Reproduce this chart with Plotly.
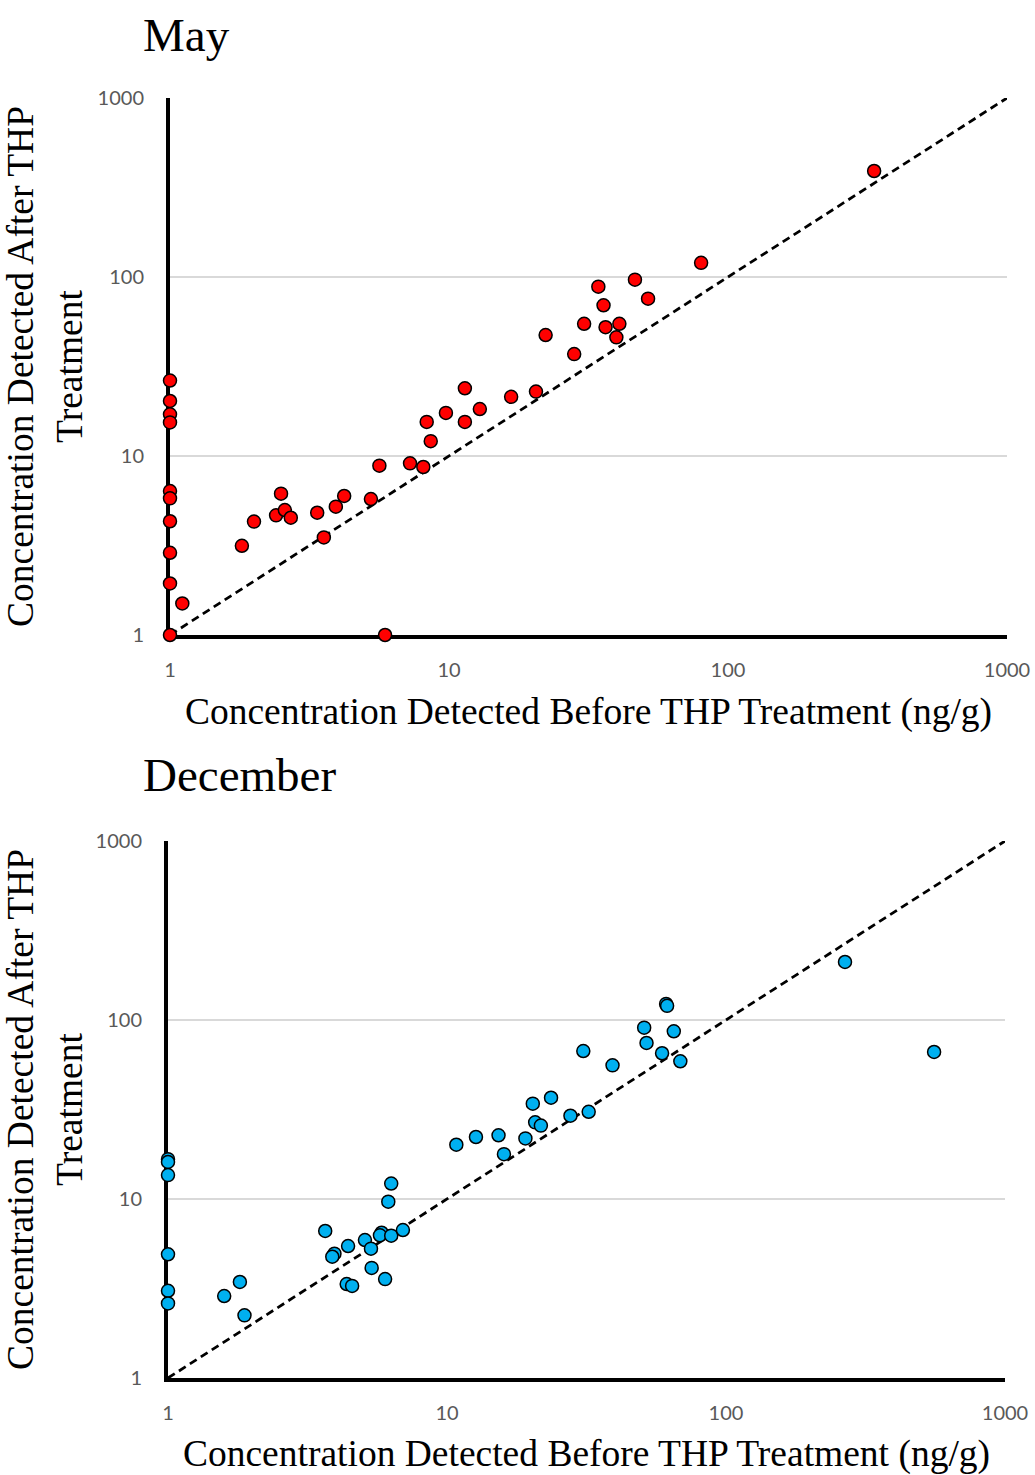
import plotly.graph_objects as go

# ---------------- data ----------------
may_before = [1, 1, 1, 1, 1, 1, 1, 1, 1, 1, 1.107, 5.9,
              1.81, 2.0, 2.5, 2.4, 2.58, 2.71, 3.37, 3.56, 3.93, 4.21, 5.25, 5.63,
              7.25, 8.09, 8.32, 8.6, 9.75, 11.4, 11.4, 12.9, 16.7, 20.5, 22.2, 28.1,
              30.5, 34.3, 35.8, 36.4, 40.8, 39.8, 46.4, 51.7, 80.1, 334]
may_after = [26.4, 20.3, 17.1, 15.4, 6.37, 5.8, 4.32, 2.88, 1.94, 1, 1.5, 1,
             3.15, 4.3, 6.16, 4.66, 4.99, 4.52, 4.82, 3.51, 5.21, 5.98, 5.75, 8.83,
             9.1, 8.68, 15.5, 12.1, 17.4, 23.9, 15.5, 18.3, 21.4, 22.9, 47.4, 37.1,
             54.8, 88.3, 69.5, 52.4, 54.8, 46.0, 96.6, 75.7, 120, 391]

dec_before = [1, 1, 1, 1, 1, 1, 1.59, 1.81, 1.88, 3.66, 3.95, 3.88, 4.42, 4.37, 4.57,
              5.08, 5.34, 5.37, 6.0, 5.83, 5.75, 6.31, 6.95, 6.16, 6.31,
              10.8, 12.7, 15.3, 16.0, 19.1, 20.3, 23.6, 20.7, 21.7, 27.7, 32.2, 30.8,
              39.2, 50.9, 51.9, 59, 65, 68.6, 61, 61.5, 267, 557]
dec_after = [16.7, 16.1, 13.6, 4.91, 3.07, 2.61, 2.87, 3.44, 2.24, 6.63, 4.95, 4.76, 5.46, 3.35, 3.27,
             5.9, 5.28, 4.12, 3.57, 6.48, 6.27, 6.24, 6.71, 9.66, 12.2,
             20.1, 22.2, 22.7, 17.8, 21.8, 34.1, 36.8, 26.8, 25.7, 29.2, 30.7, 67.1,
             55.8, 90.6, 74.4, 65.2, 86.5, 58.8, 123, 120, 211, 66.3]

ref_line = [1, 1000]
tick_vals = [1, 10, 100, 1000]
tick_text = ["1", "10", "100", "1000"]

panel_titles = ["May", "December"]
x_title = "Concentration Detected Before THP Treatment (ng/g)"
y_title = "Concentration Detected After THP<br>Treatment"

W, H = 1035, 1475

fig = go.Figure()

series = [(may_before, may_after, "#FF0000", "x", "y"),
          (dec_before, dec_after, "#00B0F0", "x2", "y2")]

for bx, ay, col, xa, ya in series:
    fig.add_trace(go.Scatter(x=ref_line, y=ref_line, mode="lines",
                             line=dict(color="black", width=2.75, dash="8px,5px"),
                             xaxis=xa, yaxis=ya, showlegend=False, hoverinfo="skip",
                             cliponaxis=False))
    fig.add_trace(go.Scatter(x=bx, y=ay, mode="markers",
                             marker=dict(color=col, size=13,
                                         line=dict(color="black", width=1.5)),
                             xaxis=xa, yaxis=ya, showlegend=False, cliponaxis=False))

tick_font = dict(family="Lato, Open Sans, sans-serif", size=20, color="#595959")
title_font = dict(family="Liberation Serif, Times New Roman, serif", size=37.5, color="black")

def xaxis_cfg(dom):
    return dict(type="log", range=[0, 3], domain=dom, tickvals=tick_vals, ticktext=tick_text,
                showgrid=False, showline=True, linecolor="black", linewidth=4,
                ticks="", ticklabelstandoff=14, tickfont=tick_font, automargin=False,
                title=dict(text=x_title, font=title_font, standoff=19),
                zeroline=False, layer="below traces", fixedrange=True)

def yaxis_cfg(dom, anchor):
    return dict(type="log", range=[0, 3], domain=dom, tickvals=tick_vals, ticktext=tick_text,
                showgrid=True, gridcolor="#D9D9D9", gridwidth=1.5,
                showline=True, linecolor="black", linewidth=4, automargin=False,
                ticks="", ticklabelstandoff=18, tickfont=tick_font,
                title=dict(text=y_title, font=title_font, standoff=14),
                anchor=anchor, zeroline=False, layer="below traces", fixedrange=True)

fig.update_layout(
    width=W, height=H,
    autosize=False,
    margin=dict(l=0, r=0, t=0, b=0, autoexpand=False),
    paper_bgcolor="white", plot_bgcolor="white",
    xaxis=dict(**xaxis_cfg([170 / W, 1007 / W]), anchor="y"),
    yaxis=yaxis_cfg([1 - 635 / H, 1 - 98 / H], "x"),
    xaxis2=dict(**xaxis_cfg([168 / W, 1005 / W]), anchor="y2"),
    yaxis2=yaxis_cfg([1 - 1378 / H, 1 - 841 / H], "x2"),
    annotations=[
        dict(text=panel_titles[0], x=141 / W, y=1 - 35 / H, xref="paper", yref="paper",
             xanchor="left", yanchor="middle", showarrow=False,
             font=dict(family="Liberation Serif, Times New Roman, serif", size=47, color="black")),
        dict(text=panel_titles[1], x=141 / W, y=1 - 775 / H, xref="paper", yref="paper",
             xanchor="left", yanchor="middle", showarrow=False,
             font=dict(family="Liberation Serif, Times New Roman, serif", size=47, color="black")),
    ],
)

fig.write_html("out.html")
